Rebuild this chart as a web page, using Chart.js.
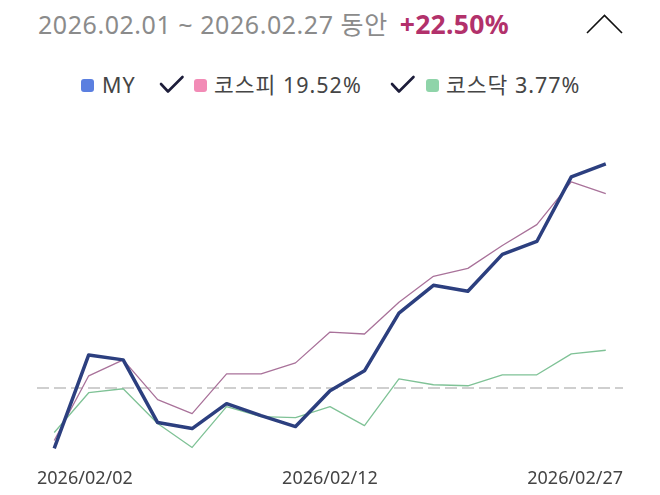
<!DOCTYPE html>
<html lang="ko">
<head>
<meta charset="utf-8">
<title>수익률 비교</title>
<script src="https://cdn.jsdelivr.net/npm/chart.js@4"></script>
<style>
  html, body { margin: 0; padding: 0; background: #fff; }
  body { width: 660px; height: 495px; position: relative; overflow: hidden;
         font-family: "Noto Sans", "Noto Sans CJK KR", sans-serif; }
  #header { position: absolute; left: 38px; top: 4px; font-size: 25px; line-height: 40px;
            color: #8b8b8b; letter-spacing: 0.55px; white-space: nowrap; }
  #header b { color: #b2316b; font-weight: 700; font-size: 26.5px; margin-left: 12px; letter-spacing: 0.3px; }
  #chevron { position: absolute; left: 585px; top: 13px; }
  .lg { position: absolute; top: 72px; height: 26px; line-height: 26px; font-size: 21.5px;
        color: #454545; white-space: nowrap; letter-spacing: 1px; }
  .sw { position: absolute; top: 79px; width: 13px; height: 13px; border-radius: 3px; }
  .ck { position: absolute; top: 75px; }
  #wrap { position: absolute; left: 0; top: 0; width: 660px; height: 495px; }
</style>
</head>
<body>
<div id="header"></div>
<svg id="chevron" width="40" height="24"><polyline points="2,20 19.5,2.5 37,20" fill="none" stroke="#111" stroke-width="1.6"/></svg>
<div id="legend"></div>
<div id="wrap"><canvas id="chart"></canvas></div>
<script>
const periodText = "2026.02.01 ~ 2026.02.27 동안";
const totalReturn = "+22.50%";

const dates = [
  "2026/02/02", "2026/02/03", "2026/02/04", "2026/02/05", "2026/02/06",
  "2026/02/09", "2026/02/10", "2026/02/11", "2026/02/12", "2026/02/13",
  "2026/02/19", "2026/02/20", "2026/02/23", "2026/02/24", "2026/02/25",
  "2026/02/26", "2026/02/27",
];

const myReturns = [-6.1, 3.3, 2.8, -3.5, -4.1, -1.6, -2.8, -3.9, -0.3, 1.7, 7.5, 10.3, 9.7, 13.4, 14.7, 21.2, 22.5];
const kospiReturns = [-5.3, 1.2, 2.8, -1.2, -2.6, 1.4, 1.4, 2.5, 5.6, 5.4, 8.6, 11.2, 12.0, 14.3, 16.4, 20.7, 19.52];
const kosdaqReturns = [-4.5, -0.5, -0.1, -3.6, -6.0, -1.9, -2.9, -3.0, -1.9, -3.8, 0.9, 0.3, 0.2, 1.3, 1.3, 3.4, 3.77];

const series = [
  { name: "MY", values: myReturns, line: "#2c3f7f", swatch: "#5b7fe0", width: 3.5, checked: false, label: "MY" },
  { name: "코스피", values: kospiReturns, line: "#a9729a", swatch: "#f28bb6", width: 1.3, checked: true, label: "코스피 19.52%" },
  { name: "코스닥", values: kosdaqReturns, line: "#7fc296", swatch: "#8fd4a9", width: 1.3, checked: true, label: "코스닥 3.77%" },
];

const xTickValues = [-0.5, 8, 16.5];

// header + legend (html, since it has check marks)
document.querySelector("#header").innerHTML = `${periodText}<b>${totalReturn}</b>`;

const legendSlots = [
  { sw: 81, text: 102 },
  { ck: 159, sw: 194, text: 214 },
  { ck: 390, sw: 426, text: 446 },
];
const legend = document.querySelector("#legend");
series.forEach((s, i) => {
  const slot = legendSlots[i];
  if (s.checked) {
    legend.insertAdjacentHTML("beforeend",
      `<svg class="ck" style="left:${slot.ck}px" width="26" height="20"><polyline points="2,9 9,16.5 23.5,2" fill="none" stroke="#1d1d3a" stroke-width="2.6" stroke-linecap="round" stroke-linejoin="round"/></svg>`);
  }
  legend.insertAdjacentHTML("beforeend",
    `<div class="sw" style="left:${slot.sw}px;background:${s.swatch}"></div><div class="lg" style="left:${slot.text}px">${s.label}</div>`);
});

const datasets = series.map((s) => ({
  label: s.name,
  data: s.values.map((v, i) => ({ x: i, y: v })),
  borderColor: s.line,
  backgroundColor: s.line,
  borderWidth: s.width,
  pointRadius: 0,
  tension: 0,
  borderJoinStyle: "round",
}));

new Chart(document.querySelector("#chart"), {
  type: "line",
  data: { datasets },
  options: {
    responsive: true,
    maintainAspectRatio: false,
    animation: false,
    layout: { padding: { left: 37, right: 37, top: 139, bottom: -6 } },
    plugins: { legend: { display: false }, tooltip: { enabled: false } },
    scales: {
      x: {
        type: "linear",
        min: -0.5,
        max: 16.5,
        afterBuildTicks: (axis) => { axis.ticks = xTickValues.map((value) => ({ value })); },
        ticks: {
          align: "inner",
          autoSkip: false,
          maxRotation: 0,
          padding: 11,
          color: "#444",
          font: { family: "Noto Sans", size: 18 },
          callback: (value) => dates[Math.min(Math.max(Math.round(value), 0), dates.length - 1)],
        },
        grid: { display: false, drawTicks: false },
        border: { display: false },
      },
      y: {
        min: -7,
        max: 25,
        afterBuildTicks: (axis) => { axis.ticks = [{ value: 0 }]; },
        afterFit: (axis) => { axis.width = 0; },
        ticks: { display: false },
        grid: {
          drawTicks: false,
          lineWidth: 2,
          color: (ctx) => (ctx.tick && ctx.tick.value === 0 ? "#cfcfcf" : "rgba(0,0,0,0)"),
        },
        border: { display: false, dash: [12, 5] },
      },
    },
  },
});
</script>
</body>
</html>
